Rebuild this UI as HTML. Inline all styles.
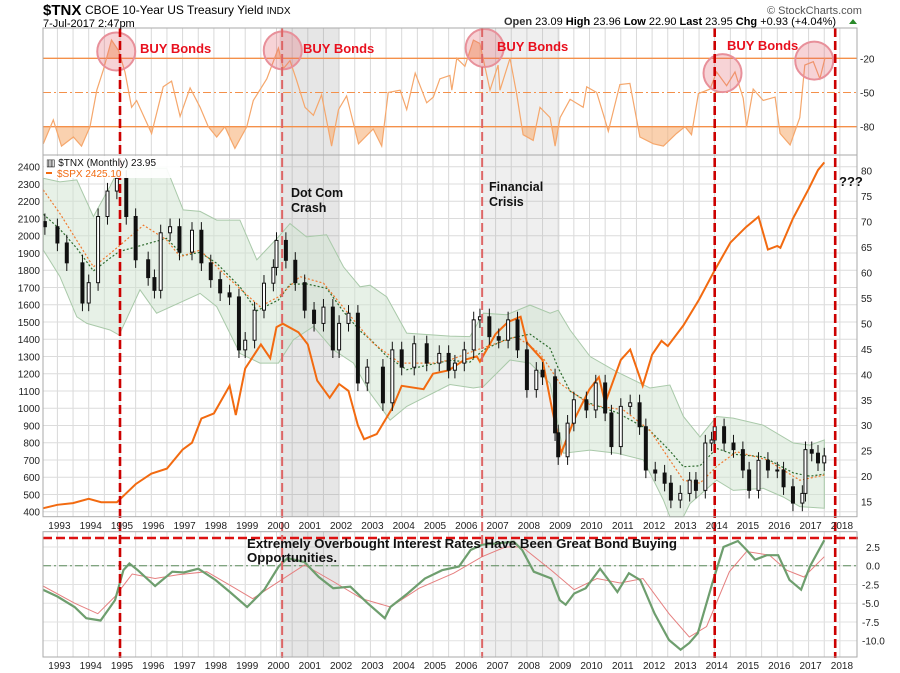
<!DOCTYPE html>
<html><head><meta charset="utf-8"><style>
html,body{margin:0;padding:0;background:#fff;}
svg{display:block;font-family:"Liberation Sans",sans-serif;}
</style></head><body>
<svg id="chart" width="900" height="673" viewBox="0 0 900 673" xmlns="http://www.w3.org/2000/svg">
<rect x="0" y="0" width="900" height="673" fill="#fff"/>
<g id="g-bg"></g>
<g id="g-grid"></g>
<g id="g-shade"></g>
<g id="g-marks"></g>
<g id="g-axes"></g>
<g id="g-ann"></g>
<text x="43" y="15" font-size="15" font-weight="bold">$TNX</text>
<text x="85" y="14" font-size="12">CBOE 10-Year US Treasury Yield <tspan font-size="10">INDX</tspan></text>
<text x="43" y="27" font-size="11">7-Jul-2017 2:47pm</text>
<text x="767" y="14" font-size="11" fill="#555">© StockCharts.com</text>
<text x="504" y="25" font-size="11"><tspan font-weight="bold" fill="#333">Open</tspan> 23.09  <tspan font-weight="bold">High</tspan> 23.96  <tspan font-weight="bold">Low</tspan> 22.90  <tspan font-weight="bold">Last</tspan> 23.95  <tspan font-weight="bold">Chg</tspan> +0.93 (+4.04%)</text>
<polygon points="849,24 857,24 853,19" fill="#2a8a2a"/>
</svg>
<script>
// ---- data ----
const tnxYears=[1992.6,1993.0,1993.3,1993.8,1994.0,1994.3,1994.6,1994.9,1995.2,1995.5,1995.9,1996.1,1996.3,1996.6,1996.9,1997.3,1997.6,1997.9,1998.2,1998.5,1998.8,1999.0,1999.3,1999.6,1999.9,2000.0,2000.3,2000.6,2000.9,2001.2,2001.5,2001.8,2002.0,2002.3,2002.6,2002.9,2003.4,2003.7,2004.0,2004.4,2004.8,2005.2,2005.5,2005.7,2006.0,2006.3,2006.5,2006.8,2007.1,2007.4,2007.7,2008.0,2008.3,2008.5,2008.9,2009.0,2009.3,2009.5,2009.9,2010.2,2010.5,2010.7,2011.0,2011.3,2011.6,2011.8,2012.1,2012.4,2012.6,2012.9,2013.2,2013.4,2013.7,2013.9,2014.0,2014.3,2014.6,2014.9,2015.1,2015.4,2015.7,2016.0,2016.2,2016.5,2016.8,2016.9,2017.1,2017.3,2017.5];
const tnxValues=[69,65.8,61.9,54,58,71,76,78.5,71,62.5,59,56.5,67.8,69,64,68.3,61.9,58.6,56,55.2,44.8,46.7,52.6,57.9,61,66.3,62.4,58,52.6,50,53.2,44.8,50,52,38.3,41.4,34.4,44.8,41.4,46,42.2,44.1,40.8,42.2,44.8,50.7,51.3,47.4,46.7,50.7,44.8,37,40.8,39.5,28.5,23.8,30.4,35,33,38.3,32.4,25.8,33.7,34.4,29.7,21.2,20.6,18.6,15.3,16.6,19.2,17.2,26.5,27.1,29.7,26.5,25.2,21.2,17.2,23.1,21.2,21.2,17.9,14.7,16.6,25.2,24.5,22.6,23.95];
const spxYears=[1992.55,1993.0,1993.5,1994.0,1994.4,1994.9,1995.5,1996.0,1996.5,1997.0,1997.3,1997.6,1998.0,1998.5,1998.7,1999.0,1999.5,1999.8,2000.0,2000.2,2000.7,2001.0,2001.3,2001.7,2002.0,2002.3,2002.6,2002.8,2003.2,2003.7,2004.0,2004.7,2005.0,2005.5,2006.0,2006.4,2006.5,2007.0,2007.4,2007.8,2008.0,2008.5,2008.8,2009.1,2009.5,2010.0,2010.3,2010.5,2011.0,2011.3,2011.7,2012.0,2012.3,2012.5,2013.0,2013.5,2014.0,2014.5,2015.0,2015.4,2015.7,2016.0,2016.1,2016.5,2017.0,2017.3,2017.5];
const spxValues=[420,440,450,475,455,455,560,620,650,760,800,940,970,1130,960,1230,1370,1290,1470,1490,1440,1370,1160,1060,1140,1100,900,820,850,1000,1130,1110,1200,1220,1280,1300,1270,1430,1500,1530,1380,1280,1000,740,930,1110,1180,1030,1280,1340,1130,1310,1390,1360,1480,1630,1800,1960,2050,2110,1920,1940,1930,2100,2270,2380,2425];
const bbUpperYears=[1992.55,1993.08,1993.62,1994.15,1994.68,1994.97,1996.49,1997.02,1997.56,1998.09,1998.83,1999.37,2000.06,2000.43,2000.96,2001.6,2002.14,2002.67,2002.99,2003.52,2004.16,2005.54,2006.18,2006.61,2007.35,2008.1,2008.74,2009.0,2009.38,2010.02,2010.87,2011.93,2012.57,2013.0,2013.53,2014.06,2014.59,2015.55,2016.51,2017.04,2017.5];
const bbUpperValues=[78.5,77.8,78.2,71,76.9,80.5,80.5,72.3,72,70.3,70.3,62.5,67,69.6,67,67.4,61.1,57.2,57.5,55.2,48.1,47.5,47.4,52,51.7,53.6,52,52.6,48.7,43.5,40.5,37.3,37.9,31.7,27.7,31.7,31.4,30,26.5,26.1,27.1];
const bbLowerYears=[1992.55,1993.08,1993.62,1993.94,1994.68,1994.97,1995.64,1996.17,1997.56,1998.09,1998.83,1999.47,2000.06,2000.54,2001.18,2001.82,2002.46,2002.99,2003.63,2004.16,2005.54,2006.29,2006.61,2007.46,2008.1,2008.74,2009.17,2010.02,2010.87,2011.72,2012.36,2012.57,2013.0,2013.21,2014.06,2014.59,2015.55,2016.19,2016.72,2017.5];
const bbLowerValues=[64.4,59.2,51.3,50,48.7,47.7,56.6,52,55.9,53.3,44.1,42.2,42.2,46.8,49.4,44.8,42.2,36.3,31,33.7,38,37.3,37.6,42.8,42.2,38.2,24.5,25.1,24.5,23.2,15.3,12,12,14.6,19.2,17.2,17.6,15.9,14,13.7];
const maYears=[1992.55,1993.08,1994.15,1994.68,1995.75,1996.49,1996.92,1997.56,1998.41,1999.47,2000.06,2000.75,2001.5,2002.46,2003.09,2003.95,2005.01,2005.54,2006.4,2007.67,2008.42,2009.06,2010.02,2011.08,2011.93,2013.0,2013.53,2014.06,2014.7,2015.66,2016.72,2017.5];
const maValues=[76.2,71.6,61.1,63.7,69.3,66.4,63.1,64.4,59.2,53.3,55.2,59.2,57.9,50.7,46.1,42.2,42.2,42.8,44.8,47.4,44.1,38.2,34,33,29,19.2,18.6,21.9,24.8,23.2,19.2,20.2];
const wrYears=[1992.55,1992.87,1993.13,1993.51,1993.77,1994.04,1994.26,1994.47,1994.73,1994.95,1995.16,1995.37,1995.53,1996.01,1996.38,1996.65,1996.92,1997.24,1997.56,1997.82,1998.09,1998.35,1998.67,1999.05,1999.26,1999.69,2000.06,2000.22,2000.43,2000.64,2000.91,2001.18,2001.44,2001.76,2001.98,2002.24,2002.62,2003.09,2003.36,2003.57,2003.95,2004.16,2004.43,2004.8,2005.01,2005.22,2005.54,2005.6,2005.76,2006.02,2006.29,2006.5,2006.82,2007.08,2007.14,2007.46,2007.67,2007.88,2008.2,2008.42,2008.74,2008.9,2009.06,2009.38,2009.8,2009.91,2010.23,2010.44,2010.6,2010.97,2011.29,2011.61,2012.04,2012.36,2012.78,2013.05,2013.26,2013.48,2013.85,2014.06,2014.38,2014.65,2014.91,2015.02,2015.23,2015.55,2015.93,2016.09,2016.41,2016.72,2016.88,2017.15,2017.36,2017.52];
const wrValues=[-95,-74,-97,-89,-97,-80,-48,-30,-4,-13,-32,-63,-57,-86,-45,-40,-71,-46,-63,-80,-89,-80,-99,-80,-57,-38,-11,-29,-22,-39,-63,-70,-52,-97,-65,-53,-95,-82,-97,-50,-48,-65,-33,-59,-54,-38,-35,-48,-20,-27,-4,-7,-48,-26,-48,-20,-51,-87,-92,-63,-72,-97,-72,-56,-63,-45,-50,-69,-84,-43,-42,-89,-95,-97,-86,-80,-87,-51,-47,-32,-44,-32,-55,-80,-47,-57,-54,-86,-96,-72,-26,-23,-38,-20];
const pmoYears=[1992.54,1993.0,1993.55,1993.92,1994.38,1994.84,1995.11,1995.3,1995.57,1996.12,1996.67,1997.04,1997.5,1998.05,1998.51,1999.06,1999.61,2000.07,2000.35,2000.89,2001.35,2001.81,2002.36,2002.91,2003.46,2003.64,2004.19,2004.74,2005.29,2005.83,2006.2,2006.57,2007.12,2007.58,2007.85,2008.22,2008.78,2009.05,2009.24,2009.51,2009.88,2010.34,2010.61,2010.89,2011.26,2011.62,2012.08,2012.54,2012.91,2013.19,2013.46,2013.92,2014.28,2014.74,2015.02,2015.29,2015.66,2016.03,2016.39,2016.76,2017.04,2017.5];
const pmoValues=[-3.2,-4.1,-5.5,-7.0,-7.3,-4.6,-0.6,0.3,-0.6,-2.7,-0.8,-0.9,-0.4,-1.9,-3.5,-5.5,-3.2,-0.1,1.0,0.5,-1.5,-3.0,-2.8,-5.0,-7.0,-5.5,-3.7,-1.7,-0.6,-0.1,2.1,2.8,3.0,3.2,2.1,-0.8,-1.7,-4.6,-5.2,-3.7,-3.0,-0.4,-1.9,-3.5,-1.0,-1.9,-6.4,-9.9,-11.2,-10.3,-9.0,-2.4,2.5,3.3,2.1,0.8,1.4,1.4,-1.9,-3.2,-0.1,3.4];
const sigYears=[1992.54,1993.55,1994.29,1994.84,1995.39,1996.12,1996.85,1997.77,1998.51,1999.24,1999.97,2000.89,2001.81,2002.73,2003.64,2004.56,2005.66,2006.57,2007.31,2007.85,2008.78,2009.51,2010.24,2010.98,2011.71,2012.54,2013.19,2013.74,2014.47,2015.02,2015.75,2016.3,2016.85,2017.5];
const sigValues=[-2.7,-5.0,-6.4,-4.1,-1.1,-1.7,-1.2,-0.8,-2.6,-4.4,-2.4,0.1,-2.1,-4.4,-5.5,-3.0,-1.0,1.2,2.5,2.5,-0.6,-3.2,-1.7,-2.3,-1.7,-6.4,-9.5,-8.1,-0.8,1.9,1.4,-0.6,-1.5,1.2];
const yearLabels=[1993,1994,1995,1996,1997,1998,1999,2000,2001,2002,2003,2004,2005,2006,2007,2008,2009,2010,2011,2012,2013,2014,2015,2016,2017,2018];
const leftTicks=[2400,2300,2200,2100,2000,1900,1800,1700,1600,1500,1400,1300,1200,1100,1000,900,800,700,600,500,400];
const rightTicks=[80,75,70,65,60,55,50,45,40,35,30,25,20,15];
const topTicks=[-20,-50,-80];
const botTicks=[2.5,0,-2.5,-5,-7.5,-10];
const eventYears=[1995.0,2000.18,2006.57,2014.0,2017.85];
const shadeStart=[2000.1,2006.55];
const shadeEnd=[2002.0,2009.05];
const buyCircleYears=[1994.88,2000.2,2006.65,2014.25,2017.18];
const buyCircleValues=[-14,-13,-11,-33,-22];

// ---- scales ----
const L=43,R=857;
const X=y=>120+(y-1995)*31.3;
const YL=v=>166.7+(2400-v)*0.1725;
const YR=v=>170.7+(80-v)*5.09;
const YT=v=>35.5-v*1.14;
const YB=v=>565.7-v*7.5;
const P={top:[28,155],main:[155,516.7],bot:[531.7,657]};
const NS='http://www.w3.org/2000/svg';
function mk(tag,attrs,parent){const e=document.createElementNS(NS,tag);for(const k in attrs)e.setAttribute(k,attrs[k]);parent.appendChild(e);return e;}
const gBg=document.getElementById('g-bg'),gGrid=document.getElementById('g-grid'),gShade=document.getElementById('g-shade'),gM=document.getElementById('g-marks'),gA=document.getElementById('g-axes'),gN=document.getElementById('g-ann');
function pts(xs,ys,fy){return xs.map((x,i)=>X(x).toFixed(1)+','+fy(ys[i]).toFixed(1)).join(' ');}

// grid
for(let yr=1992.5;yr<=2018.01;yr+=0.5){
 const x=X(yr); if(x<L||x>R)continue;
 for(const k in P){const l=mk('line',{x1:x,x2:x,y1:P[k][0],y2:P[k][1],stroke:'#d9d9d9','stroke-width':1},gGrid);
 
 }
}
leftTicks.forEach(v=>{const l=mk('line',{x1:L,x2:R,y1:YL(v),y2:YL(v),stroke:'#dcdcdc'},gGrid);
 
 });
botTicks.forEach(v=>{const l=mk('line',{x1:L,x2:R,y1:YB(v),y2:YB(v),stroke:'#e2e2e2'},gGrid);
 
 });

// shaded recessions
shadeStart.forEach((s,i)=>{for(const k in P){const r=mk('rect',{x:X(s),y:P[k][0],width:X(shadeEnd[i])-X(s),height:P[k][1]-P[k][0],fill:i==0?'#8c8c8c':'#a8a8a8','fill-opacity':i==0?0.22:0.18},gShade);
 
 }});

// ---- top panel: %R ----
const clipA=mk('clipPath',{id:'clipLow'},gM);mk('rect',{x:L,y:YT(-80),width:R-L,height:40},clipA);
const clipB=mk('clipPath',{id:'clipHigh'},gM);mk('rect',{x:L,y:0,width:R-L,height:YT(-20)},clipB);
const wrLine=pts(wrYears,wrValues,YT);
const fl=mk('polygon',{points:X(wrYears[0])+','+YT(-80)+' '+wrLine+' '+X(wrYears[wrYears.length-1])+','+YT(-80),fill:'#f6b27a','fill-opacity':0.6,'clip-path':'url(#clipLow)'},gM);


const fh=mk('polygon',{points:X(wrYears[0])+','+YT(-20)+' '+wrLine+' '+X(wrYears[wrYears.length-1])+','+YT(-20),fill:'#f6b27a','fill-opacity':0.6,'clip-path':'url(#clipHigh)'},gM);


[-20,-80].forEach(v=>{const l=mk('line',{x1:L,x2:R,y1:YT(v),y2:YT(v),stroke:'#f4904a','stroke-width':1.3},gM);
 
 });
const mid=mk('line',{x1:L,x2:R,y1:YT(-50),y2:YT(-50),stroke:'#f4904a','stroke-width':1,'stroke-dasharray':'8,3,2,3'},gM);


const wr=mk('polyline',{points:wrLine,fill:'none',stroke:'#f5a76c','stroke-width':1.2},gM);


buyCircleYears.forEach((y,i)=>{const c=mk('circle',{cx:X(y),cy:YT(buyCircleValues[i]),r:19,fill:'#e4606a','fill-opacity':0.28,stroke:'#e8909a','stroke-width':2},gM);
 
 });

// ---- main panel ----
const bandPoly=pts(bbUpperYears,bbUpperValues,YR)+' '+pts(bbLowerYears.slice().reverse(),bbLowerValues.slice().reverse(),YR);
const bb=mk('polygon',{points:bandPoly,fill:'#cfe3cf','fill-opacity':0.5,stroke:'#a9c9a9','stroke-width':1},gM);


const midVals=bbUpperYears.map((y,i)=>{let j=0;while(j<bbLowerYears.length-2&&bbLowerYears[j+1]<y)j++;const t=Math.max(0,Math.min(1,(y-bbLowerYears[j])/(bbLowerYears[j+1]-bbLowerYears[j])));return (bbUpperValues[i]+bbLowerValues[j]+(bbLowerValues[j+1]-bbLowerValues[j])*t)/2;});
const gm=mk('polyline',{points:pts(bbUpperYears,midVals,YR),fill:'none',stroke:'#2e6b2e','stroke-width':1.2,'stroke-dasharray':'2,2'},gM);


const om=mk('polyline',{points:pts(maYears,maValues,YR),fill:'none',stroke:'#f07a30','stroke-width':1.2,'stroke-dasharray':'2,2'},gM);


const spx=mk('polyline',{points:pts(spxYears,spxValues,YL),fill:'none',stroke:'#f26a10','stroke-width':2},gM);


tnxValues.forEach((c,i)=>{
 const o=i>0?tnxValues[i-1]:c+1; const x=X(tnxYears[i]);
 const hi=Math.max(o,c)+1.6, lo=Math.min(o,c)-1.6;
 const w=mk('line',{x1:x,x2:x,y1:YR(hi),y2:YR(lo),stroke:'#111','stroke-width':1},gM);
 
 
 const b=mk('rect',{x:x-1.5,y:YR(Math.max(o,c)),width:3,height:Math.max(1,Math.abs(YR(o)-YR(c))),fill:c<o?'#111':'#fff',stroke:'#111','stroke-width':1},gM);
 
 
});

// ---- bottom panel ----
const zl=mk('line',{x1:L,x2:R,y1:YB(0),y2:YB(0),stroke:'#5a8a5a','stroke-dasharray':'8,3,2,3'},gM);


const sg=mk('polyline',{points:pts(sigYears,sigValues,YB),fill:'none',stroke:'#e57f7f','stroke-width':1},gM);


const pm=mk('polyline',{points:pts(pmoYears,pmoValues,YB),fill:'none',stroke:'#6e9e6e','stroke-width':2.2},gM);


const hz=mk('line',{x1:L,x2:R+2,y1:538,y2:538,stroke:'#dd1111','stroke-width':2.5,'stroke-dasharray':'9,4'},gM);



eventYears.forEach((y,i)=>{const light=(i==1||i==2);const l=mk('line',{x1:X(y),x2:X(y),y1:28,y2:658,stroke:light?'#dd6666':'#cc0000','stroke-width':light?2:2.6,'stroke-dasharray':'9,4'},gM);
 
 });

for(const k in P){const f=mk('rect',{x:L,y:P[k][0],width:R-L,height:P[k][1]-P[k][0],fill:'none',stroke:'#aaa'},gA);
 
 }

yearLabels.forEach(y=>{[529,669].forEach(yy=>{const t=mk('text',{x:X(y)+2,y:yy,'font-size':10,'text-anchor':'middle',fill:'#222'},gA);t.textContent=y;
 
 });});
leftTicks.forEach(v=>{const t=mk('text',{x:40,y:YL(v)+4,'font-size':10,'text-anchor':'end',fill:'#222'},gA);t.textContent=v;
 
 });
rightTicks.forEach(v=>{const t=mk('text',{x:861,y:YR(v)+4,'font-size':10,fill:'#222'},gA);t.textContent=v;
 
 });
topTicks.forEach(v=>{const t=mk('text',{x:860,y:YT(v)+4,'font-size':10,fill:'#222'},gA);t.textContent=v;
 
 });
botTicks.forEach(v=>{const t=mk('text',{x:v>=0?866:862,y:YB(v)+4,'font-size':10,fill:'#222'},gA);t.textContent=v.toFixed(1);
 
 });

function txt(s,x,y,opt,name){const t=mk('text',Object.assign({x:x,y:y},opt),gN);t.textContent=s;
 
 return t;}
const red={fill:'#e8101e','font-size':13,'font-weight':'bold'};
txt('BUY Bonds',140,53,red,'buy-bonds-label');
txt('BUY Bonds',303,53,red,'buy-bonds-label');
txt('BUY Bonds',497,51,red,'buy-bonds-label');
txt('BUY Bonds',727,50,red,'buy-bonds-label');
const blk={fill:'#111','font-size':12.5,'font-weight':'bold'};
txt('Dot Com',291,197,blk,'dot-com-label');
txt('Crash',291,212,blk,'dot-com-label');
txt('Financial',489,191,blk,'financial-crisis-label');
txt('Crisis',489,206,blk,'financial-crisis-label');
txt('???',839,186,{fill:'#111','font-size':13,'font-weight':'bold'},'question-marks');
txt('Extremely Overbought Interest Rates Have Been Great Bond Buying',247,548,{fill:'#111','font-size':12.5,'font-weight':'bold',textLength:430,lengthAdjust:'spacingAndGlyphs'},'bottom-annotation');
txt('Opportunities.',247,562,{fill:'#111','font-size':12.5,'font-weight':'bold',textLength:90,lengthAdjust:'spacingAndGlyphs'},'bottom-annotation');
const lg=mk('rect',{x:44,y:156,width:136,height:22,fill:'#fff','fill-opacity':0.9},gN);


txt('▥ $TNX (Monthly) 23.95',46,166,{'font-size':10,fill:'#111'},'legend-entry-tnx');
const ld=mk('line',{x1:46,x2:52,y1:173,y2:173,stroke:'#f26a10','stroke-width':2},gN);


txt('$SPX 2425.10',57,177,{'font-size':10,fill:'#f26a10'},'legend-entry-spx');
</script>
</body></html>
